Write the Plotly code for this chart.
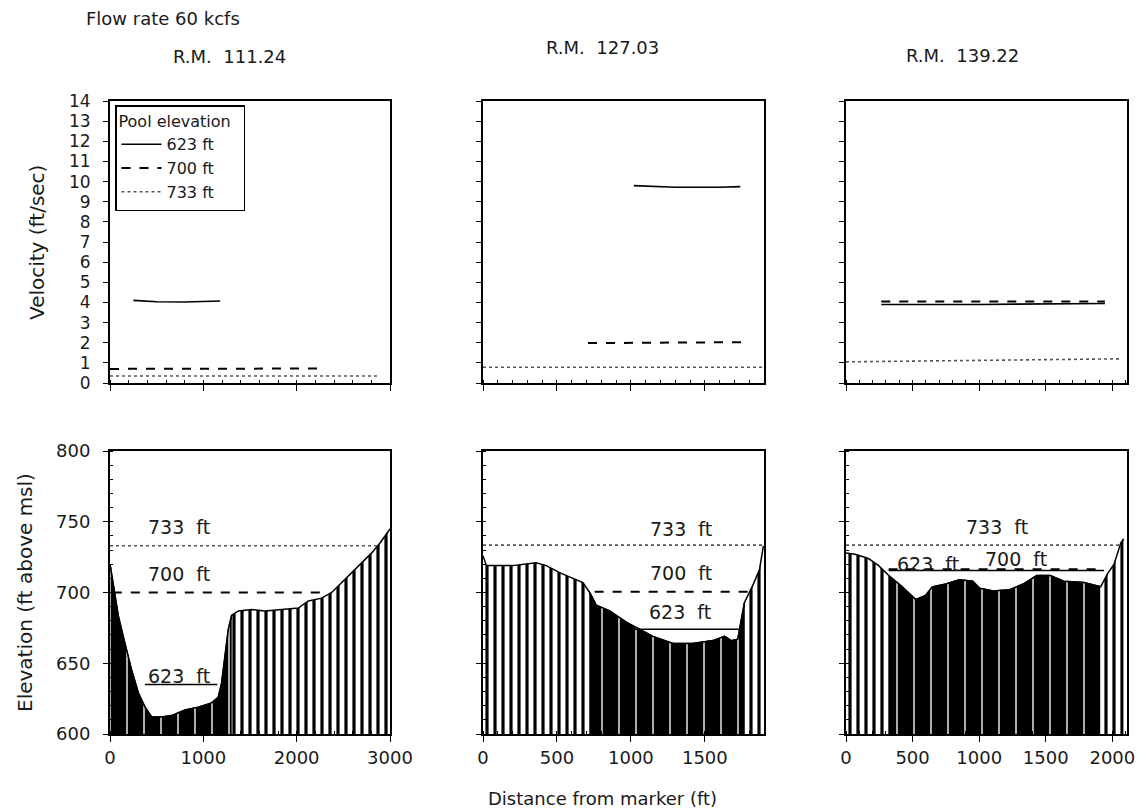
import numpy as np
import plotly.graph_objects as go

# ---------------- data ----------------
stations = ["R.M. 111.24", "R.M. 127.03", "R.M. 139.22"]
pool_names = ["623 ft", "700 ft", "733 ft"]
x_max = [3000, 1900, 2110]
x_dtick = [1000, 500, 500]

# velocity (ft/sec) along the section for each pool elevation
vel111_623_x = [250, 500, 800, 1180]
vel111_623_v = [4.1, 4.03, 4.02, 4.07]
vel111_700_x = [0, 2300]
vel111_700_v = [0.7, 0.72]
vel111_733_x = [0, 2870]
vel111_733_v = [0.35, 0.35]

vel127_623_x = [1020, 1300, 1600, 1740]
vel127_623_v = [9.8, 9.72, 9.72, 9.75]
vel127_700_x = [710, 1800]
vel127_700_v = [1.98, 2.03]
vel127_733_x = [0, 1900]
vel127_733_v = [0.78, 0.78]

vel139_623_x = [265, 1000, 1944]
vel139_623_v = [3.9, 3.9, 3.95]
vel139_700_x = [265, 1944]
vel139_700_v = [4.05, 4.05]
vel139_733_x = [0, 2050]
vel139_733_v = [1.05, 1.2]

# bed profiles (ft above msl)
bed111_x = [0, 20, 36, 90, 160, 232, 304, 375, 446, 553, 660, 804, 946, 1090, 1160,
            1196, 1232, 1268, 1304, 1375, 1518, 1660, 1840, 2018, 2125, 2268, 2375,
            2482, 2589, 2696, 2804, 2893, 2982, 3000]
bed111_z = [720, 712, 704, 683, 664, 645, 629, 619, 612, 612, 613, 617, 619, 622, 626,
            636, 655, 674, 684, 687, 688, 687, 688, 689, 694, 696, 700,
            707, 714, 721, 728, 735, 743, 745]
bed127_x = [0, 23, 200, 360, 428, 518, 608, 676, 721, 766, 856, 968, 1059, 1149, 1284,
            1419, 1554, 1633, 1678, 1723, 1768, 1824, 1869, 1896]
bed127_z = [726, 719, 719, 721, 719, 714, 710, 707, 700, 691, 687, 679, 674, 669, 664,
            664, 666, 669, 666, 667, 693, 705, 716, 733]
bed139_x = [0, 68, 169, 245, 321, 422, 523, 598, 649, 750, 851, 952, 1003, 1104, 1230,
            1331, 1432, 1533, 1634, 1785, 1912, 1962, 2013, 2063, 2085]
bed139_z = [728, 727, 724, 719, 712, 704, 695, 698, 704, 706, 709, 708, 703, 701, 702,
            706, 712, 712, 708, 707, 704, 713, 720, 735, 738]
dense_span = [(0, 1304), (721, 1768), (321, 1912)]

# water surface (elevation, x start, x end) per pool
wse111 = {"623 ft": (635, 375, 1150), "700 ft": (700, 30, 2300), "733 ft": (733, 0, 2880)}
wse127 = {"623 ft": (674, 1013, 1734), "700 ft": (700.5, 755, 1790), "733 ft": (733.5, 0, 1896)}
wse139 = {"623 ft": (715.5, 320, 1937), "700 ft": (716.5, 320, 1937), "733 ft": (733.5, 0, 2063)}

vel_sets = [
    [(vel111_623_x, vel111_623_v), (vel111_700_x, vel111_700_v), (vel111_733_x, vel111_733_v)],
    [(vel127_623_x, vel127_623_v), (vel127_700_x, vel127_700_v), (vel127_733_x, vel127_733_v)],
    [(vel139_623_x, vel139_623_v), (vel139_700_x, vel139_700_v), (vel139_733_x, vel139_733_v)],
]
beds = [(bed111_x, bed111_z), (bed127_x, bed127_z), (bed139_x, bed139_z)]
wses = [wse111, wse127, wse139]

# ---------------- styling ----------------
W, H = 1148, 812
FONT = "DejaVu Sans"
INK = "#1a1a1a"
line_styles = {
    "623 ft": dict(color="black", width=1.6, dash="solid"),
    "700 ft": dict(color="black", width=2, dash="dash"),
    "733 ft": dict(color="#555555", width=1.6, dash="dot"),
}
col_px = [(110, 390), (483, 764), (846, 1127)]
top_px = (101, 383)
bot_px = (451, 734)


def xdom(c):
    return [col_px[c][0] / W, col_px[c][1] / W]


def ydom(r):
    a, b = r
    return [1 - b / H, 1 - a / H]


fig = go.Figure()
layout = dict(
    width=W, height=H, margin=dict(l=0, r=0, t=0, b=0),
    paper_bgcolor="white", plot_bgcolor="white",
    font=dict(family=FONT, size=18, color=INK),
    showlegend=True,
    legend=dict(
        x=115 / W, y=1 - 105 / H, xanchor="left", yanchor="top",
        bgcolor="white", bordercolor="black", borderwidth=1.5,
        font=dict(size=16, family=FONT, color=INK),
        title=dict(text="Pool elevation  ", font=dict(size=16, family=FONT, color=INK)),
        itemwidth=40, tracegroupgap=0,
    ),
)

axis_common = dict(showline=True, linecolor="black", linewidth=2, mirror=True,
                   showgrid=False, zeroline=False, ticks="outside", tickcolor="black",
                   automargin=False)

for c in range(3):
    xt, yt = f"x{c + 1}", f"y{c + 1}"
    xb, yb = f"x{c + 4}", f"y{c + 4}"
    # velocity lines
    for k, name in enumerate(pool_names):
        vx, vv = vel_sets[c][k]
        fig.add_trace(go.Scatter(
            x=vx, y=vv, mode="lines", line=line_styles[name], name=name,
            legendgroup=name, showlegend=(c == 0), xaxis=xt, yaxis=yt, hoverinfo="skip"))
    # bed profile: hatched whole section, near-solid block over the channel
    bx = np.array(beds[c][0], dtype=float)
    bz = np.array(beds[c][1], dtype=float)
    fig.add_trace(go.Scatter(
        x=bx, y=bz, mode="lines", fill="tozeroy", fillcolor="white",
        fillpattern=dict(shape="|", size=8, solidity=0.4, fgcolor="black",
                         bgcolor="white", fgopacity=1),
        line=dict(color="black", width=1.5), showlegend=False, xaxis=xb, yaxis=yb,
        hoverinfo="skip"))
    a, b = dense_span[c]
    m = (bx >= a) & (bx <= b)
    fig.add_trace(go.Scatter(
        x=bx[m], y=bz[m], mode="lines", fill="tozeroy", fillcolor="black",
        fillpattern=dict(shape="|", size=17, solidity=0.92, fgcolor="black",
                         bgcolor="white", fgopacity=1),
        line=dict(color="black", width=1.5), showlegend=False, xaxis=xb, yaxis=yb,
        hoverinfo="skip"))
    # water surfaces
    for name in ["733 ft", "700 ft", "623 ft"]:
        z, x0, x1 = wses[c][name]
        fig.add_trace(go.Scatter(
            x=[x0, x1], y=[z, z], mode="lines", line=line_styles[name],
            showlegend=False, xaxis=xb, yaxis=yb, hoverinfo="skip"))

    sfx_t = "" if c == 0 else str(c + 1)
    sfx_b = str(c + 4)
    minor_dx = 200 if c == 0 else 100
    layout["xaxis" + sfx_t] = dict(
        axis_common, domain=xdom(c), anchor=yt, range=[0, x_max[c]],
        dtick=x_dtick[c], tick0=0, ticklen=6, showticklabels=False,
        minor=dict(ticks="inside", dtick=minor_dx, ticklen=3, tickcolor="black"))
    layout["yaxis" + sfx_t] = dict(
        axis_common, domain=ydom(top_px), anchor=xt, range=[0, 14], dtick=1, tick0=0,
        ticklen=5, showticklabels=(c == 0), tickfont=dict(size=17),
        ticklabelstandoff=9)
    layout["xaxis" + sfx_b] = dict(
        axis_common, domain=xdom(c), anchor=yb, range=[0, x_max[c]],
        dtick=x_dtick[c], tick0=0, ticklen=6, showticklabels=True,
        tickfont=dict(size=18),
        minor=dict(ticks="inside", dtick=minor_dx, ticklen=3, tickcolor="black"))
    layout["yaxis" + sfx_b] = dict(
        axis_common, domain=ydom(bot_px), anchor=xb, range=[600, 800], dtick=50, tick0=600,
        ticklen=5, showticklabels=(c == 0), tickfont=dict(size=18),
        ticklabelstandoff=9,
        minor=dict(ticks="inside", dtick=10, ticklen=3, tickcolor="black"))

fig.update_layout(**layout)

# ---------------- text ----------------
ann = []
ann.append(dict(text="Flow rate 60 kcfs", x=84 / W, y=1 - 18 / H, xref="paper", yref="paper",
                xanchor="left", yanchor="middle", showarrow=False, font=dict(size=18)))
title_pos = [(229, 57), (602, 47), (962, 55)]
for c in range(3):
    px, py = title_pos[c]
    ann.append(dict(text=stations[c].replace(" ", "\u00a0\u00a0"), x=px / W, y=1 - py / H,
                    xref="paper", yref="paper", xanchor="center", yanchor="middle",
                    showarrow=False, font=dict(size=18)))
ann.append(dict(text="Velocity (ft/sec)", x=37 / W, y=1 - 243 / H, xref="paper", yref="paper",
                textangle=-90, xanchor="center", yanchor="middle", showarrow=False,
                font=dict(size=20)))
ann.append(dict(text="Elevation (ft above msl)", x=25 / W, y=1 - 593 / H, xref="paper",
                yref="paper", textangle=-90, xanchor="center", yanchor="middle",
                showarrow=False, font=dict(size=20)))
ann.append(dict(text="Distance from marker (ft)", x=602 / W, y=1 - 798 / H, xref="paper",
                yref="paper", xanchor="center", yanchor="middle", showarrow=False,
                font=dict(size=18)))
label_pos = [
    {"733 ft": (740, 746), "700 ft": (735, 713), "623 ft": (735, 641)},
    {"733 ft": (1340, 745), "700 ft": (1340, 714), "623 ft": (1335, 686)},
    {"733 ft": (1134, 746), "700 ft": (1280, 724), "623 ft": (614, 720)},
]
for c in range(3):
    for name, (lx, ly) in label_pos[c].items():
        ann.append(dict(text=name.replace(" ", "\u00a0\u00a0"), x=lx, y=ly,
                        xref=f"x{c + 4}", yref=f"y{c + 4}",
                        xanchor="center", yanchor="middle", showarrow=False,
                        font=dict(size=19)))
fig.update_layout(annotations=ann)

fig.write_html(
    "out.html",
    config={"displayModeBar": False},
    post_script="document.body.style.margin='0';document.body.style.overflow='hidden';",
)
